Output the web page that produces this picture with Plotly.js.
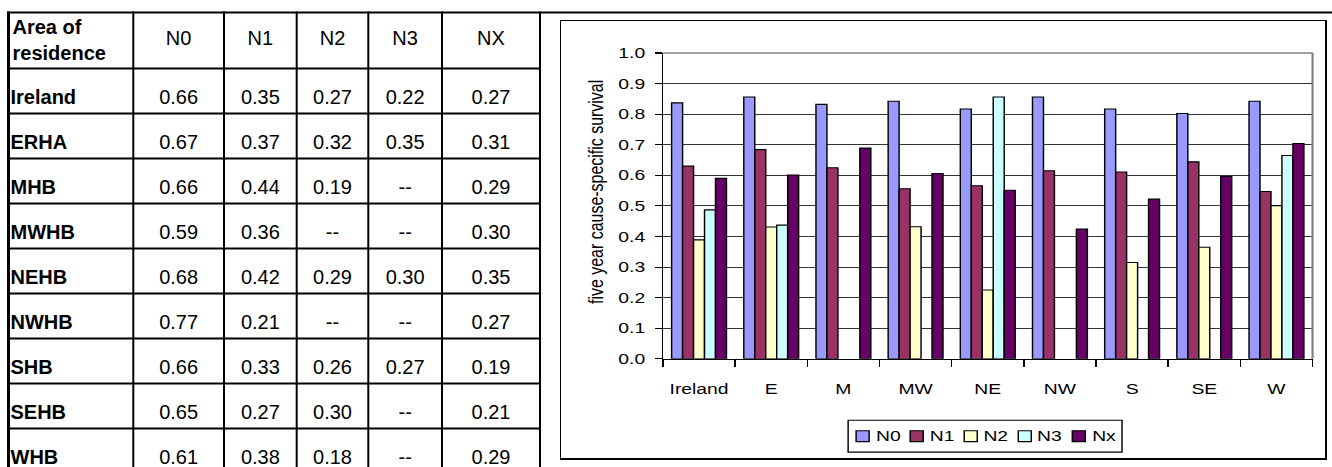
<!DOCTYPE html>
<html>
<head>
<meta charset="utf-8">
<script src="https://cdn.plot.ly/plotly-3.0.1.min.js"></script>
<style>
  html, body { margin: 0; padding: 0; width: 1332px; height: 467px; overflow: hidden; background: #fff; }
  #table { position: absolute; left: 0; top: 0; width: 1332px; height: 480px; }
  /* the embedded chart is laid out at its native size, then stretched into its cell */
  #chart { position: absolute; left: 560px; top: 20px; width: 529px; height: 400px;
           transform-origin: 0 0; transform: scale(1.45, 1.1); }
  #frame { position: absolute; left: 560px; top: 20px; width: 767px; height: 440px; box-sizing: border-box;
           border-style: solid; border-color: #000; border-width: 1px 2px 2px 1px; pointer-events: none; }
</style>
</head>
<body>
<div id="table"></div>
<div id="chart"></div>
<div id="frame"></div>
<script>
// ---- table: survival by area of residence and nodal stage ----
const areas = ['Ireland', 'ERHA', 'MHB', 'MWHB', 'NEHB', 'NWHB', 'SHB', 'SEHB', 'WHB'];
const tableHeaders = ['N0', 'N1', 'N2', 'N3', 'NX'];
const tabN0 = [0.66, 0.67, 0.66, 0.59, 0.68, 0.77, 0.66, 0.65, 0.61];
const tabN1 = [0.35, 0.37, 0.44, 0.36, 0.42, 0.21, 0.33, 0.27, 0.38];
const tabN2 = [0.27, 0.32, 0.19, null, 0.29, null, 0.26, 0.30, 0.18];
const tabN3 = [0.22, 0.35, null, null, 0.30, null, 0.27, null, null];
const tabNX = [0.27, 0.31, 0.29, 0.30, 0.35, 0.27, 0.19, 0.21, 0.29];

// ---- chart: five year cause-specific survival ----
const regions = ['Ireland', 'E', 'M', 'MW', 'NE', 'NW', 'S', 'SE', 'W'];
const stages = ['N0', 'N1', 'N2', 'N3', 'Nx'];
const survN0 = [0.837, 0.856, 0.832, 0.842, 0.817, 0.856, 0.817, 0.802, 0.842];
const survN1 = [0.630, 0.684, 0.625, 0.556, 0.566, 0.615, 0.611, 0.644, 0.547];
const survN2 = [0.389, 0.431, null, 0.432, 0.225, null, 0.315, 0.365, 0.501];
const survN3 = [0.487, 0.437, null, null, 0.856, null, null, null, 0.665];
const survNx = [0.590, 0.601, 0.689, 0.606, 0.551, 0.424, 0.522, 0.596, 0.704];
const stageColors = ['#9999FF', '#993366', '#FFFFCC', '#CCFFFF', '#660066'];

const FONT = 'Arial, "Liberation Sans", sans-serif';

// ================= table figure =================
const TW = 1332, TH = 480;
const colEdges = [8.5, 133.3, 224, 296.7, 368.3, 442, 540];
const tableTop = 12.5, headerH = 56, rowH = 45;
const rowTop = i => tableTop + headerH + i * rowH;
const bodyTextOff = 30.8;
const colCenter = j => (colEdges[j] + colEdges[j + 1]) / 2;
const fmt = v => (v == null ? '--' : v.toFixed(2));
const tableCols = [tabN0, tabN1, tabN2, tabN3, tabNX];

const cellFont = { family: FONT, size: 20, color: '#000' };
const tTraces = [];
tTraces.push({
  type: 'scatter', mode: 'text', hoverinfo: 'skip', cliponaxis: false,
  x: areas.map(() => colEdges[0] + 2),
  y: areas.map((_, i) => rowTop(i) + bodyTextOff),
  text: areas, textposition: 'middle right',
  textfont: Object.assign({ weight: 'bold' }, cellFont)
});
tableCols.forEach((col, j) => {
  tTraces.push({
    type: 'scatter', mode: 'text', hoverinfo: 'skip', cliponaxis: false,
    x: col.map(() => colCenter(j + 1)),
    y: col.map((_, i) => rowTop(i) + bodyTextOff),
    text: col.map(fmt), textposition: 'middle center', textfont: cellFont
  });
});
tTraces.push({
  type: 'scatter', mode: 'text', hoverinfo: 'skip', cliponaxis: false,
  x: [colEdges[0] + 4], y: [tableTop + 29.5],
  text: ['Area of<br>residence'], textposition: 'middle right',
  textfont: Object.assign({ weight: 'bold' }, cellFont)
});
tTraces.push({
  type: 'scatter', mode: 'text', hoverinfo: 'skip', cliponaxis: false,
  x: tableHeaders.map((_, j) => colCenter(j + 1)),
  y: tableHeaders.map(() => tableTop + 27.5),
  text: tableHeaders, textposition: 'middle center', textfont: cellFont
});

const tShapes = [];
const ln = (x0, y0, x1, y1, w) => ({ type: 'line', xref: 'x', yref: 'y', x0, y0, x1, y1, layer: 'above', line: { color: '#000', width: w } });
tShapes.push(ln(7, tableTop, TW, tableTop, 2));
colEdges.forEach((x, k) => tShapes.push(ln(x, tableTop - 1, x, TH, k === 0 ? 3 : 2)));
for (let i = 0; i <= areas.length; i++) {
  const y = tableTop + headerH + i * rowH;
  tShapes.push(ln(colEdges[0], y, colEdges[colEdges.length - 1], y, 2));
}

Plotly.newPlot('table', tTraces, {
  width: TW, height: TH, margin: { l: 0, r: 0, t: 0, b: 0 },
  paper_bgcolor: '#fff', plot_bgcolor: '#fff', showlegend: false,
  xaxis: { range: [0, TW], visible: false, fixedrange: true },
  yaxis: { range: [TH, 0], visible: false, fixedrange: true },
  shapes: tShapes
}, { staticPlot: true, displayModeBar: false });

// ================= chart figure =================
const CW = 529, CH = 400;
const M = { l: 70.8, r: 9.9, t: 29.7, b: 91.5 };
const pw = CW - M.l - M.r, ph = CH - M.t - M.b;
const px = u => (u - M.l) / pw;          // chart pixel -> paper x
const py = v => (CH - M.b - v) / ph;     // chart pixel -> paper y
const tickFont = { family: FONT, size: 13.33, color: '#000' };

const series = [survN0, survN1, survN2, survN3, survNx];
const bars = series.map((vals, k) => ({
  type: 'bar', name: stages[k], x: regions, y: vals,
  marker: { color: stageColors[k], line: { color: '#000', width: 1 } },
  hoverinfo: 'skip'
}));

// legend drawn as a compact boxed row of swatches
const leg = { left: 198.6, right: 387.6, top: 364.5, bottom: 393.6, first: 204.1, step: 37.3, sw: 9, sh: 10, textGap: 12.4 };
const legMid = (leg.top + leg.bottom) / 2;
const shapes = [
  { type: 'line', xref: 'paper', yref: 'paper', x0: 0, x1: 1, y0: 1, y1: 1, layer: 'above', line: { color: '#808080', width: 1.5 } },
  { type: 'line', xref: 'paper', yref: 'paper', x0: 1, x1: 1, y0: 0, y1: 1, layer: 'above', line: { color: '#808080', width: 1.5 } },
  { type: 'rect', xref: 'paper', yref: 'paper', x0: px(leg.left), x1: px(leg.right), y0: py(leg.bottom), y1: py(leg.top),
    line: { color: '#000', width: 1 }, fillcolor: '#fff' }
];
const annotations = [{
  xref: 'paper', yref: 'paper', x: px(24.1), y: py(155.9), textangle: -90,
  text: 'five year cause-specific survival', showarrow: false,
  font: { family: FONT, size: 14.5, color: '#000' }, xanchor: 'center', yanchor: 'middle'
}];
stages.forEach((s, k) => {
  const x0 = leg.first + k * leg.step;
  shapes.push({ type: 'rect', xref: 'paper', yref: 'paper',
    x0: px(x0), x1: px(x0 + leg.sw), y0: py(legMid + leg.sh / 2), y1: py(legMid - leg.sh / 2),
    fillcolor: stageColors[k], line: { color: '#000', width: 1 } });
  annotations.push({ xref: 'paper', yref: 'paper', x: px(x0 + leg.textGap), y: py(legMid),
    text: s, showarrow: false, xanchor: 'left', yanchor: 'middle', borderpad: 0,
    font: tickFont });
});

Plotly.newPlot('chart', bars, {
  width: CW, height: CH, margin: M,
  paper_bgcolor: '#fff', plot_bgcolor: '#fff', showlegend: false,
  barmode: 'group', bargap: 0.24, bargroupgap: 0,
  xaxis: {
    type: 'category', tickson: 'boundaries', ticks: 'outside', ticklen: 6.1, tickwidth: 1, tickcolor: '#000',
    showline: true, linecolor: '#000', linewidth: 1, showgrid: false, zeroline: false,
    tickfont: tickFont, ticklabelstandoff: 15, fixedrange: true
  },
  yaxis: {
    range: [0, 1], dtick: 0.1, tick0: 0, tickformat: '.1f',
    ticks: 'outside', ticklen: 4.6, tickwidth: 1, tickcolor: '#000',
    showline: true, linecolor: '#000', linewidth: 1,
    showgrid: true, gridcolor: '#333', gridwidth: 1, zeroline: false,
    tickfont: tickFont, ticklabelstandoff: 4, fixedrange: true
  },
  shapes, annotations
}, { staticPlot: true, displayModeBar: false });
</script>
</body>
</html>
